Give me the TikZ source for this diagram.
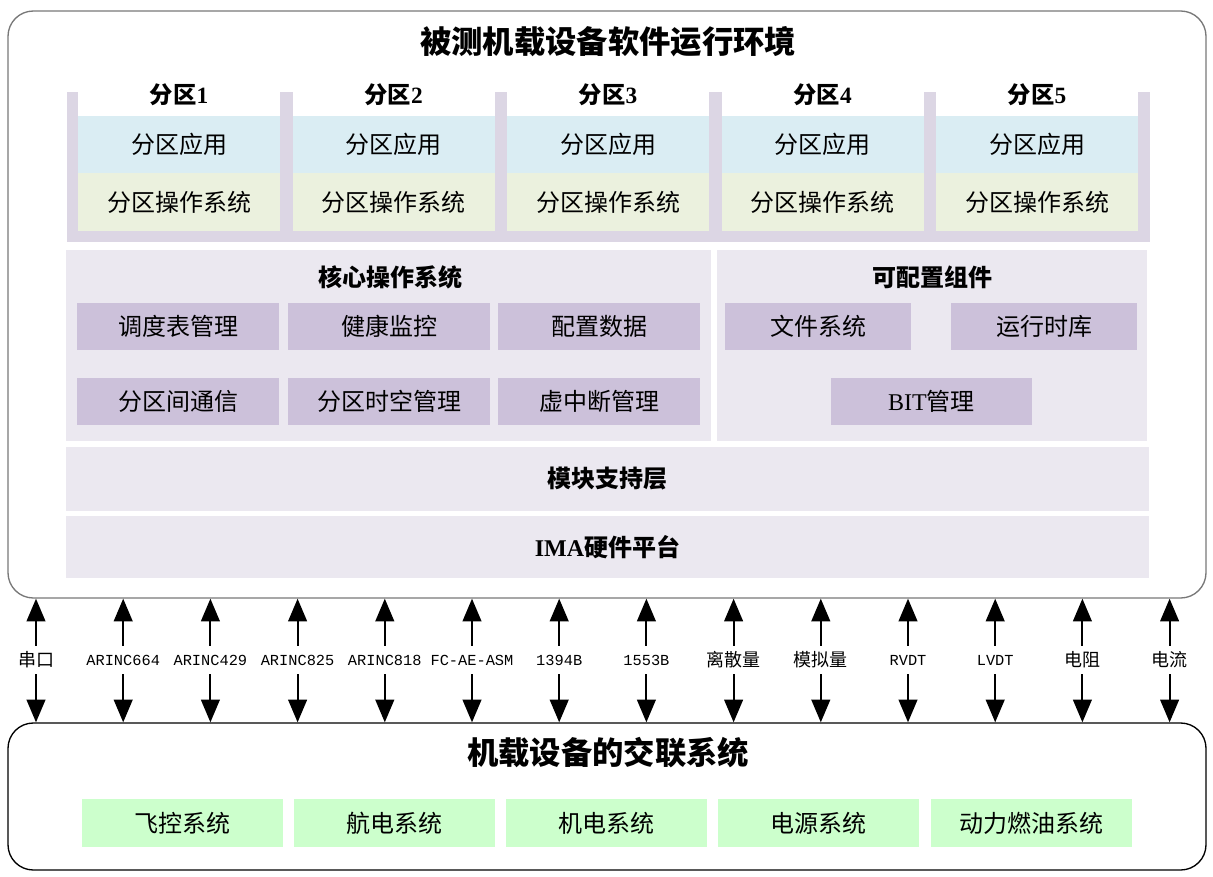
\documentclass[tikz,border=0pt]{standalone}
\usepackage{fontspec}
\setmainfont{Liberation Serif}
\newfontfamily\cjk{Noto Sans CJK SC}
\newfontfamily\monof{Liberation Mono}
\usetikzlibrary{arrows.meta}
\definecolor{frameC}{HTML}{DCD6E4}
\definecolor{appC}{HTML}{DAEDF3}
\definecolor{osC}{HTML}{EBF1DE}
\definecolor{coreC}{HTML}{EBE8F0}
\definecolor{purpC}{HTML}{CCC1DA}
\definecolor{sysC}{HTML}{CCFFCC}
\newcommand\upx{0.75pt}
\newcommand\cjklab{\cjk\fontsize{13.5pt}{15pt}\selectfont}
\begin{document}
\begin{tikzpicture}[x=0.75pt,y=-0.75pt,
  blk/.style={draw=none,inner sep=0pt,outer sep=0pt,font=\cjk\fontsize{18pt}{21pt}\selectfont},
  appbox/.style={blk,fill=appC,minimum width=202*\upx,minimum height=57*\upx},
  osbox/.style={blk,fill=osC,minimum width=202*\upx,minimum height=58*\upx},
  pbox/.style={blk,fill=purpC,minimum height=47*\upx},
  bgbox/.style={blk,fill=coreC},
  sysbox/.style={blk,fill=sysC,minimum width=201*\upx,minimum height=48*\upx},
  bigtitle/.style={font=\cjk\bfseries\fontsize{23.5pt}{27pt}\selectfont,inner sep=0pt},
  subtitle/.style={font=\bfseries\fontsize{17.5pt}{20pt}\selectfont,inner sep=0pt},
  cjksub/.style={font=\cjk\bfseries\fontsize{18pt}{21pt}\selectfont},
  iflabel/.style={fill=white,inner sep=1.5pt,minimum height=21pt,font=\monof\fontsize{11.5pt}{13pt}\selectfont},
  arr/.style={line width=1.5pt,-{Triangle[width=14pt,length=17pt]}}
]
\useasboundingbox (0,0) rectangle (1213,877);

% outer boxes
\node[draw={rgb,255:red,120;green,120;blue,120},line width=1pt,rounded corners=19pt,minimum width=1198*\upx,minimum height=587*\upx,inner sep=0pt] (env) at (607,304.5) {};
\node[bigtitle] (envt) at (608,42) {被测机载设备软件运行环境};

\node[draw=black,line width=1pt,rounded corners=19pt,minimum width=1198*\upx,minimum height=147*\upx,inner sep=0pt] (sys) at (607,796.5) {};
\node[bigtitle] (syst) at (608,753) {机载设备的交联系统};

% partition frame
\fill[frameC] (67,92) rectangle (78,242);
\fill[frameC] (280,92) rectangle (292.5,242);
\fill[frameC] (494.5,92) rectangle (507,242);
\fill[frameC] (709,92) rectangle (721.5,242);
\fill[frameC] (923.5,92) rectangle (936,242);
\fill[frameC] (1138,92) rectangle (1150,242);
\fill[frameC] (67,231) rectangle (1150,242);

\foreach \i in {1,...,5}{
  \pgfmathsetmacro\cx{179+214.5*(\i-1)}
  \node[subtitle] (pl\i) at (\cx,95) {{\cjk 分区}\i};
  \node[appbox] (app\i) at (\cx,144.5) {分区应用};
  \node[osbox] (os\i) at (\cx,202) {分区操作系统};
}

% core OS
\node[bgbox,minimum width=645*\upx,minimum height=191*\upx] (core) at (388.5,345.5) {};
\node[subtitle,cjksub] (coret) at (390,277) {核心操作系统};
\node[pbox,minimum width=202*\upx] (sched) at (178,326.5) {调度表管理};
\node[pbox,minimum width=202*\upx] (health) at (389,326.5) {健康监控};
\node[pbox,minimum width=202*\upx] (cfgdata) at (599,326.5) {配置数据};
\node[pbox,minimum width=202*\upx] (ipc) at (178,401.5) {分区间通信};
\node[pbox,minimum width=202*\upx] (stm) at (389,401.5) {分区时空管理};
\node[pbox,minimum width=202*\upx] (virq) at (599,401.5) {虚中断管理};

% configurable components
\node[bgbox,minimum width=430*\upx,minimum height=191*\upx] (cfg) at (932,345.5) {};
\node[subtitle,cjksub] (cfgt) at (932,277) {可配置组件};
\node[pbox,minimum width=186*\upx] (fs) at (818,326.5) {文件系统};
\node[pbox,minimum width=186*\upx] (rtl) at (1044,326.5) {运行时库};
\node[pbox,minimum width=201*\upx] (bit) at (931.5,401.5) {{\rmfamily BIT}管理};

% layers
\node[bgbox,cjksub,minimum width=1083*\upx,minimum height=64*\upx] (msl) at (607.5,479) {模块支持层};
\node[bgbox,cjksub,minimum width=1083*\upx,minimum height=62*\upx] (ima) at (607.5,547) {{\rmfamily IMA}硬件平台};

% systems
\node[sysbox] (fc) at (182.5,823) {飞控系统};
\node[sysbox] (av) at (394.5,823) {航电系统};
\node[sysbox] (em) at (606.5,823) {机电系统};
\node[sysbox] (pw) at (818.5,823) {电源系统};
\node[sysbox] (fuel) at (1031.5,823) {动力燃油系统};

% interfaces
\foreach \t [count=\i from 0] in {{\cjklab 串口},ARINC664,ARINC429,ARINC825,ARINC818,FC-AE-ASM,1394B,1553B,{\cjklab 离散量},{\cjklab 模拟量},RVDT,LVDT,{\cjklab 电阻},{\cjklab 电流}}{
  \pgfmathsetmacro\ax{36+87.2*\i}
  \node[iflabel] (if\i) at (\ax,660) {\t};
  \draw[arr] (if\i) -- (if\i |- env.south);
  \draw[arr] (if\i) -- (if\i |- sys.north);
}
\end{tikzpicture}
\end{document}
